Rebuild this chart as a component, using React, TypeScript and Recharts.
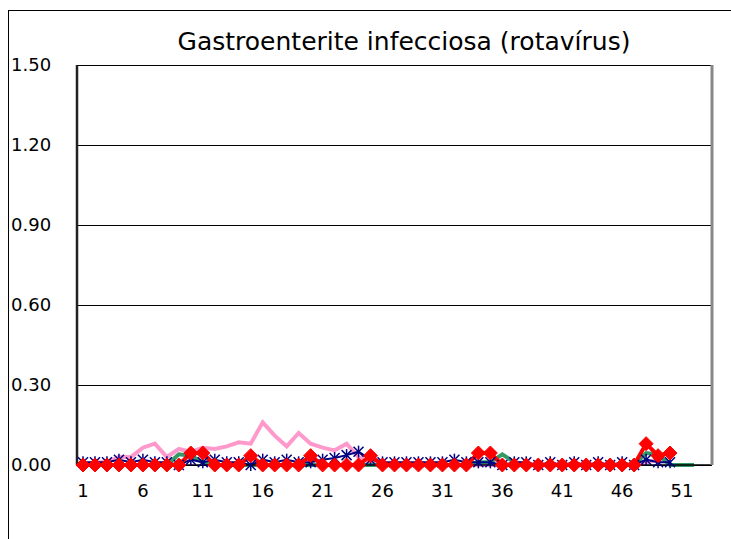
import React from 'react';
import { LineChart, Line, XAxis, YAxis, CartesianGrid } from 'recharts';

const weeks = Array.from({ length: 53 }, (_, i) => String(i + 1));

const pinkSeries = [
  0.0, 0.01, 0.01, 0.03, 0.03, 0.065, 0.08, 0.03, 0.06, 0.05,
  0.065, 0.06, 0.07, 0.085, 0.08, 0.16, 0.11, 0.07, 0.12, 0.08,
  0.065, 0.055, 0.08, 0.03, 0.01, 0, 0, 0, 0, 0,
  0, 0, 0, 0, 0, 0, 0, 0, 0, 0,
  0, 0, 0, 0, 0, 0, 0, 0.01, 0.02, 0.01,
  null, null, null,
];

const greenSeries = [
  0, 0, 0, 0, 0, 0, 0, 0, 0.04, 0.035,
  0.01, 0, 0, 0, 0, 0, 0, 0, 0, 0,
  0, 0, 0, 0, 0, 0, 0, 0, 0, 0,
  0, 0, 0, 0.01, 0.01, 0.04, 0.01, 0, 0, 0,
  0, 0, 0, 0, 0, 0, 0, 0.045, 0.04, 0.0,
  0, 0, null,
];

const blueSeries = [
  0.01, 0.01, 0.01, 0.02, 0.01, 0.02, 0.01, 0.01, 0.0, 0.02,
  0.01, 0.02, 0.01, 0.01, 0.0, 0.02, 0.01, 0.02, 0.01, 0.01,
  0.02, 0.026, 0.037, 0.05, 0.02, 0.01, 0.01, 0.01, 0.01, 0.01,
  0.01, 0.02, 0.01, 0.01, 0.01, 0.0, 0.01, 0.01, 0.0, 0.01,
  0.0, 0.01, 0.0, 0.01, 0.0, 0.01, 0.0, 0.02, 0.01, 0.01,
  null, null, null,
];

const redSeries = [
  0, 0, 0, 0, 0, 0, 0, 0, 0, 0.045,
  0.045, 0, 0, 0, 0.035, 0, 0, 0, 0, 0.035,
  0, 0, 0, 0, 0.035, 0, 0, 0, 0, 0,
  0, 0, 0, 0.045, 0.045, 0, 0, 0, 0, 0,
  0, 0, 0, 0, 0, 0, 0, 0.08, 0.035, 0.045,
  null, null, null,
];

const yTicks = [0, 0.3, 0.6, 0.9, 1.2, 1.5];

const data = weeks.map((w, i) => ({
  week: w,
  pink: pinkSeries[i],
  green: greenSeries[i],
  blue: blueSeries[i],
  red: redSeries[i],
}));

const FONT = '"DejaVu Sans", sans-serif';

const YTick = (props: any) => {
  const { y, payload } = props;
  return (
    <text x={11} y={y} dy={6} textAnchor="start" fontSize={18} fill="#000" fontFamily={FONT}>
      {Number(payload.value).toFixed(2)}
    </text>
  );
};

const Asterisk = (props: any) => {
  const { cx, cy, index } = props;
  if (cx == null || cy == null) return null;
  const r = 5;
  return (
    <g key={`ast-${index}`} stroke="#000080" strokeWidth={1.5}>
      <line x1={cx - r} y1={cy - r} x2={cx + r} y2={cy + r} />
      <line x1={cx - r} y1={cy + r} x2={cx + r} y2={cy - r} />
      <line x1={cx} y1={cy - r - 1} x2={cx} y2={cy + r + 1} />
    </g>
  );
};

const Diamond = (props: any) => {
  const { cx, cy, index } = props;
  if (cx == null || cy == null) return null;
  const r = 7;
  return (
    <path
      key={`dia-${index}`}
      d={`M${cx},${cy - r}L${cx + r},${cy}L${cx},${cy + r}L${cx - r},${cy}Z`}
      fill="#FF0000"
      stroke="#FF0000"
    />
  );
};

export default function App() {
  return (
    <div style={{ position: 'absolute', left: 0, top: 0, width: 731, height: 539, overflow: 'hidden', background: '#fff' }}>
      {/* outer chart frame, runs off the right and bottom edges */}
      <div style={{ position: 'absolute', left: 8, top: 10, width: 740, height: 540, borderLeft: '1px solid #000', borderTop: '1px solid #000' }} />
      <div style={{ position: 'absolute', left: 0, top: 27, width: 808, textAlign: 'center', fontFamily: FONT, fontSize: 25, color: '#000' }}>
        Gastroenterite infecciosa (rotavírus)
      </div>
      <div style={{ position: 'absolute', left: 0, top: 0 }}>
        <LineChart width={731} height={539} data={data} margin={{ top: 65, right: 0, bottom: 40, left: 0 }}>
          <CartesianGrid yAxisId="left" horizontal vertical={false} stroke="#000" strokeWidth={1} shapeRendering="crispEdges" />
          <XAxis
            dataKey="week"
            interval={4}
            padding={{ left: 6, right: 6 }}
            axisLine={{ stroke: '#000', strokeWidth: 1.5 }}
            tickLine={false}
            tick={{ fontSize: 18, fill: '#000', fontFamily: FONT }}
            tickMargin={13}
            height={34}
          />
          <YAxis
            yAxisId="left"
            domain={[0, 1.5]}
            ticks={yTicks}
            width={77}
            axisLine={{ stroke: '#222', strokeWidth: 2.5 }}
            tickLine={false}
            tick={<YTick />}
          />
          <YAxis
            yAxisId="right"
            orientation="right"
            domain={[0, 1.5]}
            ticks={yTicks}
            width={19}
            axisLine={{ stroke: '#888', strokeWidth: 3 }}
            tickLine={false}
            tick={false}
          />
          <Line yAxisId="left" type="linear" dataKey="pink" stroke="#FF99CC" strokeWidth={4} dot={false} isAnimationActive={false} />
          <Line yAxisId="left" type="linear" dataKey="green" stroke="#339966" strokeWidth={4} dot={false} isAnimationActive={false} />
          <Line yAxisId="left" type="linear" dataKey="blue" stroke="#000080" strokeWidth={2} dot={<Asterisk />} isAnimationActive={false} />
          <Line yAxisId="left" type="linear" dataKey="red" stroke="#FF0000" strokeWidth={4} dot={<Diamond />} isAnimationActive={false} />
        </LineChart>
      </div>
    </div>
  );
}
